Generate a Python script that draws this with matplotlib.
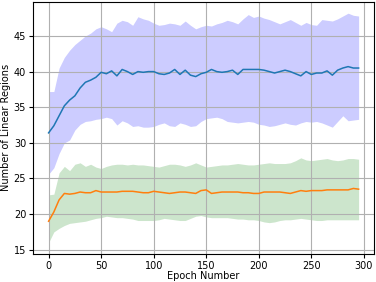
import numpy as np
import matplotlib
matplotlib.use('Agg')
import matplotlib.pyplot as plt

epochs = np.arange(0, 300, 5)

blue_mean = [31.4, 32.4, 33.8, 35.2, 36.0, 36.6, 37.7, 38.5, 38.8, 39.2,
             39.9, 39.7, 40.1, 39.4, 40.3, 40.0, 39.6, 40.0, 39.9, 40.0,
             40.0, 39.7, 39.6, 39.8, 40.3, 39.6, 40.2, 39.5, 39.3, 39.7,
             39.9, 40.3, 40.0, 39.9, 40.0, 40.2, 39.6, 40.3, 40.3, 40.3,
             40.3, 40.2, 40.0, 39.8, 40.0, 40.2, 40.0, 39.7, 39.4, 40.0,
             39.6, 39.8, 39.8, 40.1, 39.5, 40.2, 40.5, 40.7, 40.5, 40.5]
blue_upper = [37.2, 37.2, 40.5, 42.0, 43.0, 43.8, 44.4, 45.0, 45.4, 46.0,
              46.3, 46.0, 45.6, 46.8, 47.2, 47.0, 46.5, 47.7, 47.4, 47.2,
              46.8, 46.5, 46.6, 46.8, 46.7, 46.5, 47.1, 46.5, 46.0, 46.3,
              46.5, 46.4, 46.7, 46.9, 47.2, 47.0, 46.7, 47.4, 48.0, 47.6,
              47.8, 47.5, 47.3, 47.0, 46.7, 47.0, 47.3, 46.9, 46.5, 46.9,
              46.6, 46.5, 47.3, 47.2, 47.1, 47.4, 47.8, 48.2, 47.9, 47.8]
blue_lower = [25.6, 26.5, 28.5, 30.0, 30.4, 31.8, 32.6, 33.0, 33.1, 33.3,
              33.4, 33.6, 33.4, 32.5, 33.1, 32.8, 32.3, 32.4, 32.2, 32.2,
              32.3, 32.6, 32.8, 32.4, 32.3, 32.8, 32.6, 32.3, 32.4, 33.0,
              33.4, 33.5, 33.6, 33.4, 33.0, 32.9, 32.8, 32.9, 33.0, 32.9,
              32.6, 32.5, 32.3, 32.4, 32.6, 32.8, 32.6, 32.5, 32.8, 33.0,
              32.9, 33.0, 32.8, 32.5, 32.2, 33.0, 33.8, 33.1, 33.2, 33.3]

orange_mean = [19.0, 20.3, 22.0, 22.9, 22.8, 22.9, 23.1, 23.0, 23.0, 23.3,
               23.1, 23.1, 23.1, 23.1, 23.2, 23.2, 23.2, 23.1, 23.0, 23.0,
               23.2, 23.1, 23.0, 22.9, 23.0, 23.1, 23.1, 23.0, 22.9, 23.3,
               23.4, 22.9, 23.0, 23.1, 23.1, 23.1, 23.1, 23.0, 23.0, 22.9,
               22.9, 23.1, 23.1, 23.1, 23.1, 23.0, 22.9, 23.1, 23.3, 23.2,
               23.3, 23.3, 23.3, 23.4, 23.4, 23.4, 23.4, 23.4, 23.6, 23.5]
green_upper = [22.7, 22.8, 25.8, 26.7, 26.1, 27.0, 27.2, 26.7, 27.0, 26.6,
               26.4, 26.7, 26.9, 27.0, 27.0, 26.9, 27.0, 26.9, 26.9, 26.8,
               26.7, 26.6, 26.8, 27.0, 27.0, 26.9, 26.7, 26.9, 27.2, 26.9,
               26.6, 26.7, 26.8, 26.9, 26.9, 27.0, 27.1, 27.0, 26.9, 26.9,
               27.0, 27.1, 27.2, 27.1, 27.1, 27.1, 27.2, 27.5, 27.9, 27.6,
               27.5, 27.6, 27.7, 27.8, 27.6, 27.5, 27.6, 27.8, 27.8, 27.7]
green_lower = [16.0, 17.5, 18.0, 18.4, 18.7, 18.8, 18.9, 19.0, 19.2, 19.4,
               19.5, 19.7, 19.6, 19.5, 19.5, 19.4, 19.3, 19.1, 19.1, 19.1,
               19.1, 19.2, 19.4, 19.3, 19.2, 19.1, 19.1, 19.4, 19.7, 19.8,
               19.6, 19.5, 19.5, 19.5, 19.5, 19.4, 19.3, 19.3, 19.2, 19.2,
               19.1, 18.9, 18.8, 18.9, 19.1, 19.2, 19.2, 19.3, 19.4, 19.3,
               19.2, 19.1, 19.1, 19.2, 19.2, 19.2, 19.2, 19.2, 19.2, 19.2]

fig = plt.figure(figsize=(3.76, 2.82), dpi=100)
ax = fig.add_axes([0.088, 0.099, 0.907, 0.895])

ax.fill_between(epochs, blue_lower, blue_upper, color='blue', alpha=0.2, linewidth=0)
ax.plot(epochs, blue_mean, color='tab:blue', linewidth=1.1)
ax.fill_between(epochs, green_lower, green_upper, color='green', alpha=0.2, linewidth=0)
ax.plot(epochs, orange_mean, color='tab:orange', linewidth=1.1)

ax.grid(True, color='#b0b0b0', linewidth=0.8)
ax.set_xticks([0, 50, 100, 150, 200, 250, 300])
ax.set_yticks([15, 20, 25, 30, 35, 40, 45])
ax.tick_params(labelsize=7, length=3, pad=2)
ax.set_xlabel('Epoch Number', fontsize=7, labelpad=0)
ax.set_ylabel('Number of Linear Regions', fontsize=7, labelpad=2)

fig.savefig('out.png', dpi=100)
